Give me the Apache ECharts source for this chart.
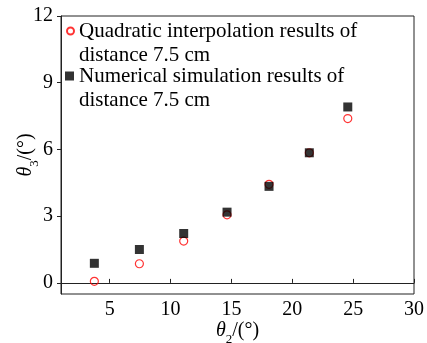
<!DOCTYPE html>
<html>
<head>
<meta charset="utf-8">
<style>html,body{margin:0;padding:0;background:#fff;}#c{width:427px;height:343px;}</style>
<script src="https://cdn.jsdelivr.net/npm/echarts@6/dist/echarts.min.js"></script>
</head>
<body>
<div id="c"></div>
<script>
const theta2 = [3.74, 7.44, 11.08, 14.64, 18.09, 21.4, 24.56];
const quadratic = [0.07, 0.86, 1.88, 3.06, 4.43, 5.85, 7.39];
const numerical = [0.88, 1.5, 2.22, 3.18, 4.34, 5.85, 7.91];
const xTicks = [5, 10, 15, 20, 25, 30];
const yTicks = [0, 3, 6, 9, 12];
const nameQuad = 'Quadratic interpolation results of\ndistance 7.5 cm';
const nameNum = 'Numerical simulation results of\ndistance 7.5 cm';

const FONT = '"Liberation Serif", "Times New Roman", serif';
const chart = echarts.init(document.getElementById('c'));
const pairs = (xs, ys) => xs.map((x, i) => [x, ys[i]]);
const legendText = {fontFamily: FONT, fontSize: 21, color: '#000', lineHeight: 24};
const nameRich = {
  i: {fontFamily: FONT, fontStyle: 'italic', fontSize: 20, verticalAlign: 'bottom', lineHeight: 22},
  s: {fontFamily: FONT, fontSize: 13, verticalAlign: 'bottom', lineHeight: 22, padding: [0, 0, -5, 0]},
  n: {fontFamily: FONT, fontSize: 20, verticalAlign: 'bottom', lineHeight: 22}
};
chart.setOption({
  animation: false,
  backgroundColor: '#fff',
  grid: {left: 61, right: 13, top: 16, bottom: 49, containLabel: false, outerBoundsMode: 'none',
         show: true, borderColor: '#222', borderWidth: 1},
  legend: [
    {data: [nameQuad], left: 66, top: -5, padding: 0, itemWidth: 7, itemHeight: 7,
     formatter: n => '\n' + n, textStyle: legendText, selectedMode: false},
    {data: [nameNum], left: 65, top: 40, padding: 0, itemWidth: 9, itemHeight: 9,
     formatter: n => '\n' + n, textStyle: legendText, selectedMode: false}
  ],
  xAxis: {
    type: 'value', min: 1, max: 30,
    name: '{i|θ}{s|2}{n|/(°)}', nameLocation: 'middle', nameGap: 25, nameMoveOverlap: false,
    nameTextStyle: {fontFamily: FONT, fontSize: 20, color: '#000', rich: nameRich},
    axisLine: {lineStyle: {color: '#222', width: 1}},
    axisTick: {inside: true, length: 4, customValues: xTicks, lineStyle: {color: '#222'}},
    axisLabel: {customValues: xTicks, margin: 6, fontFamily: FONT, fontSize: 20, color: '#000'},
    splitLine: {show: false}
  },
  yAxis: {
    type: 'value', min: -0.5, max: 12,
    name: '{i|θ}{s|3}{n|/(°)}', nameLocation: 'middle', nameGap: 25, nameRotate: 90, nameMoveOverlap: false,
    nameTextStyle: {fontFamily: FONT, fontSize: 20, color: '#000', rich: nameRich},
    axisLine: {show: true, lineStyle: {color: '#222', width: 1}},
    axisTick: {show: true, inside: false, length: 4, customValues: yTicks, lineStyle: {color: '#222'}},
    axisLabel: {customValues: yTicks, margin: 8, fontFamily: FONT, fontSize: 20, color: '#000'},
    splitLine: {show: false}
  },
  series: [
    {name: nameQuad, type: 'scatter', symbol: 'circle', symbolSize: 8,
     itemStyle: {color: 'rgba(255,255,255,0)', borderColor: '#ff0000', borderWidth: 1.2},
     data: pairs(theta2, quadratic)},
    {name: nameNum, type: 'scatter', symbol: 'rect', symbolSize: 9,
     itemStyle: {color: '#000'},
     data: pairs(theta2, numerical)}
  ]
});
</script>
</body>
</html>
